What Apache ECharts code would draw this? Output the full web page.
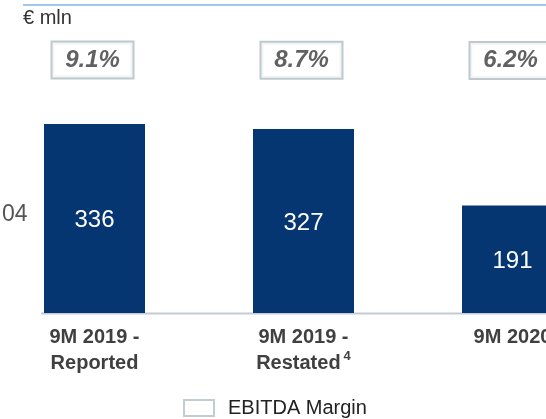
<!DOCTYPE html>
<html>
<head>
<meta charset="utf-8">
<script src="https://cdn.jsdelivr.net/npm/echarts@6/dist/echarts.min.js"></script>
<style>
  html, body { margin: 0; padding: 0; background: #ffffff; }
  #chart { width: 546px; height: 419px; }
</style>
</head>
<body>
<div id="chart"></div>
<script>
// data
var categories = ["9M 2019 -\nReported", "9M 2019 -\nRestated", "9M 2020"];
var footnotes = ["", "4", ""];
var ebitda = [336, 327, 191];
var margins = [9.1, 8.7, 6.2];

var myChart = echarts.init(document.getElementById("chart"));

var font = "Liberation Sans, Arial, sans-serif";

myChart.setOption({
  animation: false,
  textStyle: { fontFamily: font },
  grid: [
    // bars (the right side runs off the page)
    { left: -10, width: 627, top: 88, bottom: 106, outerBoundsMode: "none", containLabel: false },
    // margin boxes (thin strip)
    { left: -12, width: 627, top: 60, height: 1, outerBoundsMode: "none", containLabel: false }
  ],
  xAxis: [
    {
      type: "category",
      gridIndex: 0,
      data: categories,
      axisLine: { show: false }, // 轴线用 graphic 画
      axisTick: { show: false },
      axisLabel: {
        margin: 11,
        interval: 0,
        color: "#404040",
        fontSize: 20,
        fontWeight: "bold",
        lineHeight: 26,
        formatter: function (value, index) {
          var txt = value;
          if (footnotes[index]) {
            txt += "{sup|" + footnotes[index] + "}";
          }
          return txt;
        },
        rich: {
          sup: {
            fontSize: 13,
            color: "#404040",
            verticalAlign: "top",
            padding: [0, 0, 12, 3]
          }
        }
      }
    },
    {
      type: "category",
      gridIndex: 1,
      data: categories,
      show: false
    }
  ],
  yAxis: [
    { type: "value", gridIndex: 0, min: 0, max: 400, show: false },
    { type: "value", gridIndex: 1, min: 0, max: 10, show: false }
  ],
  legend: {
    data: ["EBITDA Margin"],
    left: 183,
    top: 398,
    padding: 0,
    icon: "rect",
    itemWidth: 30,
    itemHeight: 16,
    itemGap: 10,
    textStyle: { fontSize: 20, color: "#222222", padding: [0, 0, 0, 9] }
  },
  graphic: [
    {
      type: "line",
      shape: { x1: 23, y1: 5, x2: 546, y2: 5 },
      style: { stroke: "#7cb8e8", lineWidth: 1.5 }
    },
    {
      type: "text",
      left: 23,
      top: 8,
      style: { text: "€ mln", fontSize: 20, fill: "#333333", fontFamily: font }
    },
    {
      type: "line",
      shape: { x1: 41, y1: 313.5, x2: 546, y2: 313.5 },
      style: { stroke: "#c3cbd6", lineWidth: 2 },
      z: 1
    },
    {
      type: "text",
      left: 2,
      top: 203,
      style: { text: "04", fontSize: 23, fill: "#555555", fontFamily: font }
    }
  ],
  series: [
    {
      name: "EBITDA",
      type: "bar",
      xAxisIndex: 0,
      yAxisIndex: 0,
      data: ebitda,
      barWidth: 101,
      itemStyle: { color: "#063672" },
      label: {
        show: true,
        position: "inside",
        offset: [0, 2],
        color: "#ffffff",
        fontSize: 24
      },
      z: 3
    },
    {
      name: "EBITDA Margin",
      type: "scatter",
      xAxisIndex: 1,
      yAxisIndex: 1,
      data: margins,
      clip: false,
      symbol: "rect",
      symbolSize: 1,
      itemStyle: { color: "#ffffff", borderColor: "#b2c0c5", borderWidth: 2 },
      label: {
        show: true,
        position: "inside",
        formatter: function (p) {
          return p.value.toFixed(1) + "%";
        },
        width: 80,
        align: "center",
        padding: [6, 0, 5, 0],
        lineHeight: 24,
        fontSize: 24,
        fontWeight: "bold",
        fontStyle: "italic",
        color: "#3a3a3a",
        backgroundColor: "#ffffff",
        borderColor: "#aebcc1",
        borderWidth: 2
      }
    }
  ]
});
</script>
</body>
</html>
